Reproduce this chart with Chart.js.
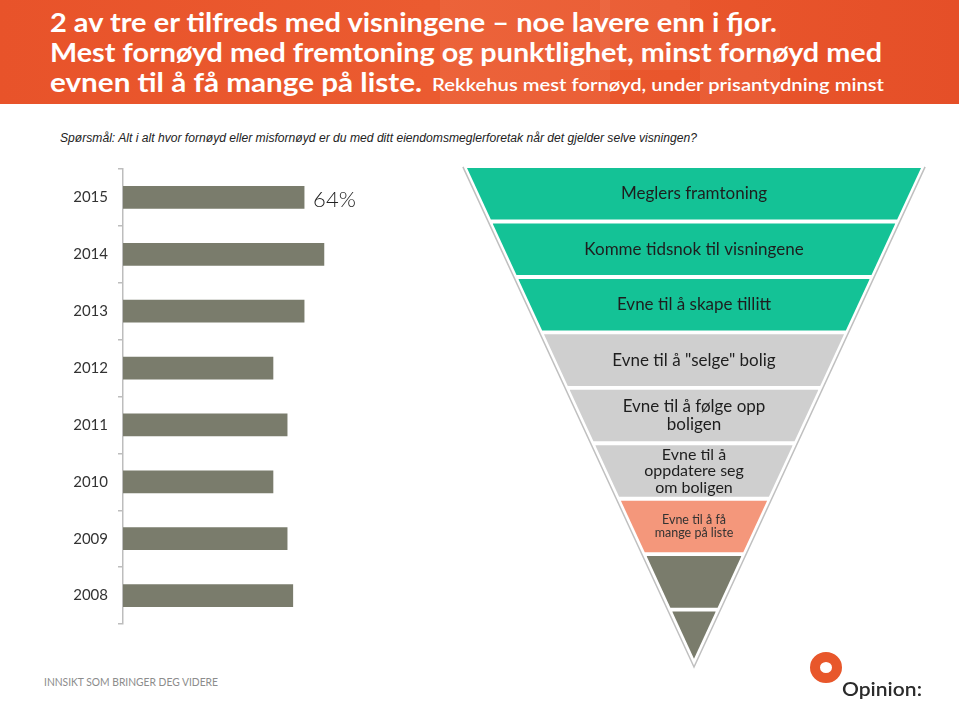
<!DOCTYPE html>
<html>
<head>
<meta charset="utf-8">
<script src="https://cdn.jsdelivr.net/npm/chart.js@4.4.0/dist/chart.umd.min.js"></script>
<style>
    html, body { margin: 0; padding: 0; background: #fff; }
    body { position: relative; width: 959px; height: 701px; overflow: hidden; font-family: Lato, "Open Sans", sans-serif; }
    .t { position: absolute; white-space: nowrap; transform-origin: 0 0; line-height: 1; }
    #header { position: absolute; left: 0; top: 0; width: 959px; height: 104px;
        background: linear-gradient(90deg, #e8532a 0%, #eb5b30 45%, #e9562c 70%, #e54f28 100%); }
    .sq { position: absolute; background: rgba(255, 255, 255, 0.05); }
    .head { color: #fff; font-weight: 700; font-size: 26px; }
    #ring { position: absolute; left: 810px; top: 652px; width: 32px; height: 31px; border-radius: 50%;
        border: 10px solid #e8572b; box-sizing: border-box; }
    .box { position: absolute; }
</style>
</head>
<body>
<div id="header">
    <div class="sq" style="left:440px;top:0;width:170px;height:104px"></div>
    <div class="sq" style="left:600px;top:0;width:90px;height:70px"></div>
    <div class="sq" style="left:700px;top:30px;width:80px;height:74px"></div>
</div>
<div class="t head" id="h1">2 av tre er tilfreds med visningene – noe lavere enn i fjor.</div>
<div class="t head" id="h2">Mest fornøyd med fremtoning og punktlighet, minst fornøyd med</div>
<div class="t head" id="h3">evnen til å få mange på liste.</div>
<div class="t head" id="h3s" style="font-size:17px;font-weight:600">Rekkehus mest fornøyd, under prisantydning minst</div>
<div class="t" id="sub" style="font-family:'Liberation Sans',Arial,sans-serif;font-style:italic;font-size:12.5px;color:#222">Spørsmål: Alt i alt hvor fornøyd eller misfornøyd er du med ditt eiendomsmeglerforetak når det gjelder selve visningen?</div>

<div class="box" style="left:0;top:150px;width:420px;height:500px"><canvas id="bars" width="420" height="500"></canvas></div>
<div class="box" style="left:440px;top:150px;width:510px;height:530px"><canvas id="funnel" width="510" height="530"></canvas></div>

<div class="t" id="foot" style="font-size:11px;color:#8c8c8c">INNSIKT SOM BRINGER DEG VIDERE</div>
<div id="ring"></div>
<div class="t" id="logo" style="font-size:20px;font-weight:600;color:#2b2b2b">Opinion:</div>

<script>
// Andel fornøyde med visningen, per år
const years = ['2015', '2014', '2013', '2012', '2011', '2010', '2009', '2008'];
const satisfied = [64, 71, 64, 53, 58, 53, 58, 60];

// Trakt: mest fornøyd øverst, minst fornøyd nederst
const funnelLabels = [
    'Meglers framtoning',
    'Komme tidsnok til visningene',
    'Evne til å skape tillitt',
    'Evne til å "selge" bolig',
    'Evne til å følge opp\nboligen',
    'Evne til å\noppdatere seg\nom boligen',
    'Evne til å få\nmange på liste',
    '',
    ''
];

// styling for the funnel levels
const levelColors = ['#14c296', '#14c296', '#14c296', '#cfcfcf', '#cfcfcf', '#cfcfcf', '#f4977b', '#7a7c6c', '#7a7c6c'];
const levelFontSize = [17, 17, 17, 17, 17, 16, 12.5, 12, 12];
const levelLineHeight = [18, 18, 18, 18, 18, 16.5, 12.5, 12, 12];
const levelFill = 0.93;
const apex = 8.85;

Chart.defaults.font.family = 'Lato';
Chart.defaults.animation = false;

function place(id, left, baseline, width) {
    const el = document.getElementById(id);
    el.style.left = left + 'px';
    el.style.top = '0px';
    const probe = document.createElement('span');
    probe.style.cssText = 'display:inline-block;width:0;height:0;vertical-align:baseline;';
    el.appendChild(probe);
    const r = el.getBoundingClientRect();
    const base = probe.getBoundingClientRect().top - r.top;
    el.removeChild(probe);
    el.style.top = (baseline - base) + 'px';
    if (width) el.style.transform = 'scaleX(' + (width / r.width) + ')';
}

place('h1', 50, 32, 727);
place('h2', 50, 62, 832);
place('h3', 50, 92, 372);
place('h3s', 432, 91, 452);
place('sub', 60, 142, 637);
place('foot', 44, 686, 174);
place('logo', 842, 696, 80);

const valueLabel = {
    id: 'valueLabel',
    afterDatasetsDraw(chart) {
        const bar = chart.getDatasetMeta(0).data[0];
        const ctx = chart.ctx;
        ctx.save();
        ctx.font = '300 22px Lato';
        ctx.fillStyle = '#222';
        ctx.textBaseline = 'middle';
        ctx.fillText(satisfied[0] + '%', bar.x + 9, bar.y + 2);
        ctx.restore();
    }
};

new Chart(document.getElementById('bars'), {
    type: 'bar',
    data: {
        labels: years,
        datasets: [{
            data: satisfied,
            backgroundColor: '#7a7c6c',
            barThickness: 22
        }]
    },
    options: {
        responsive: false,
        indexAxis: 'y',
        layout: {padding: {top: 19, bottom: 26, left: 0, right: 14}},
        plugins: {legend: {display: false}, tooltip: {enabled: false}},
        scales: {
            x: {display: false, min: 0, max: 100},
            y: {
                afterFit(scale) { scale.width = 123; },
                grid: {drawOnChartArea: false, color: '#bdbdbd', tickLength: 5, lineWidth: 1.5},
                border: {color: '#bdbdbd', width: 1.5},
                ticks: {color: '#333', font: {size: 15}, padding: 10}
            }
        }
    },
    plugins: [valueLabel]
});

const halfWidth = y => 1 - y / apex;

const levelSets = funnelLabels.map((label, i) => {
    const top = i;
    const bot = Math.min(i + levelFill, apex);
    return {
        data: [
            {x: -halfWidth(top), y: top},
            {x: -halfWidth(bot), y: bot},
            {x: halfWidth(bot), y: bot},
            {x: halfWidth(top), y: top}
        ],
        showLine: true,
        borderWidth: 0,
        pointRadius: 0,
        backgroundColor: levelColors[i],
        fill: {value: top}
    };
});

levelSets.push({
    data: [{x: -1.018, y: -0.02}, {x: 0, y: 9}, {x: 1.018, y: -0.02}],
    showLine: true,
    borderColor: 'rgba(140,140,140,0.55)',
    borderWidth: 1.5,
    pointRadius: 0,
    fill: false
});

const levelText = {
    id: 'levelText',
    afterDatasetsDraw(chart) {
        const {ctx, scales} = chart;
        ctx.save();
        ctx.textAlign = 'center';
        ctx.textBaseline = 'middle';
        funnelLabels.forEach((label, i) => {
            if (!label) return;
            const lines = label.split('\n');
            const lh = levelLineHeight[i];
            const cx = scales.x.getPixelForValue(0);
            const cy = scales.y.getPixelForValue(i + levelFill / 2);
            ctx.font = levelFontSize[i] + 'px Lato';
            ctx.fillStyle = i === 6 ? '#333' : '#1e1e1e';
            lines.forEach((ln, k) => {
                ctx.fillText(ln, cx, cy + (k - (lines.length - 1) / 2) * lh);
            });
        });
        ctx.restore();
    }
};

new Chart(document.getElementById('funnel'), {
    type: 'scatter',
    data: {datasets: levelSets},
    options: {
        responsive: false,
        layout: {padding: {left: 4.3, right: 6.3, top: 12.5, bottom: 7.5}},
        plugins: {legend: {display: false}, tooltip: {enabled: false}},
        scales: {
            x: {display: false, min: -1.1, max: 1.1},
            y: {display: false, min: -0.1, max: 9.1, reverse: true}
        }
    },
    plugins: [levelText]
});
</script>
</body>
</html>
